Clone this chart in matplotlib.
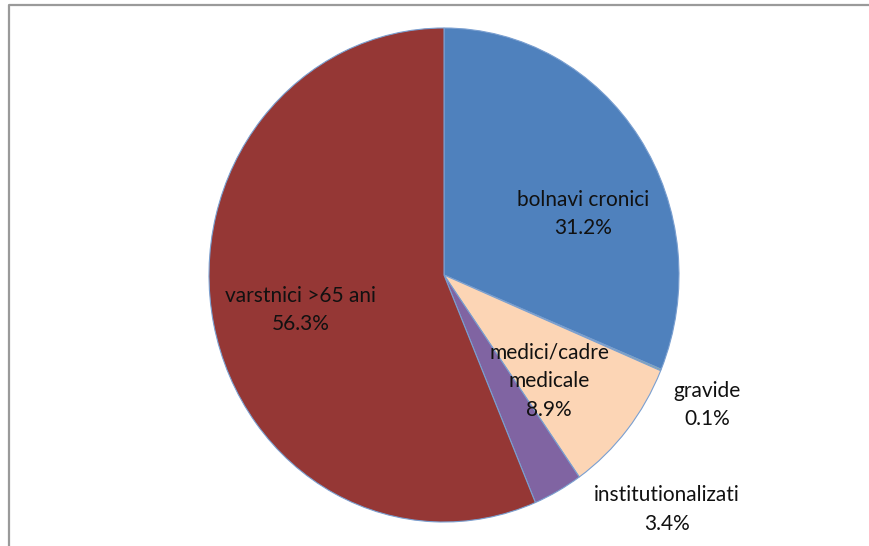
import matplotlib
matplotlib.use("Agg")
import matplotlib.pyplot as plt
from matplotlib.lines import Line2D

# data, clockwise from 12 o'clock
labels = ["bolnavi cronici", "gravide", "medici/cadre\nmedicale", "institutionalizati", "varstnici >65 ani"]
values = [31.2, 0.1, 8.9, 3.4, 56.3]
colors = ["#4f81bd", "#9bbb59", "#fcd5b5", "#8064a2", "#953735"]

# label centres in axis units (layout only)
label_pos = [(0.591, 0.247), (1.119, -0.526), (0.447, -0.429), (0.949, -0.951), (-0.609, -0.142)]

plt.rcParams["font.family"] = ["Lato", "DejaVu Sans"]

fig = plt.figure(figsize=(8.69, 5.46), dpi=100)
W, H = 869, 546
ax = fig.add_axes([209 / W, (H - 522) / H, 470 / W, 494 / H])

ax.pie(values, colors=colors, startangle=90, counterclock=False,
       wedgeprops=dict(edgecolor="#7a9fd0", linewidth=0.8))
ax.set_aspect("auto")
ax.set_xlim(-1, 1)
ax.set_ylim(-1, 1)

for lab, v, (x, y) in zip(labels, values, label_pos):
    ax.text(x, y, f"{lab}\n{v:.1f}%", ha="center", va="center",
            fontsize=15, color="#111111", linespacing=1.55, clip_on=False)

# chart border (only left and top visible in the crop)
fig.add_artist(Line2D([8.5 / W, 8.5 / W, 1.0], [0.0, 1 - 4.5 / H, 1 - 4.5 / H],
                      transform=fig.transFigure, color="#9a9a9a", linewidth=1.6))

fig.savefig("out.png", dpi=100)
